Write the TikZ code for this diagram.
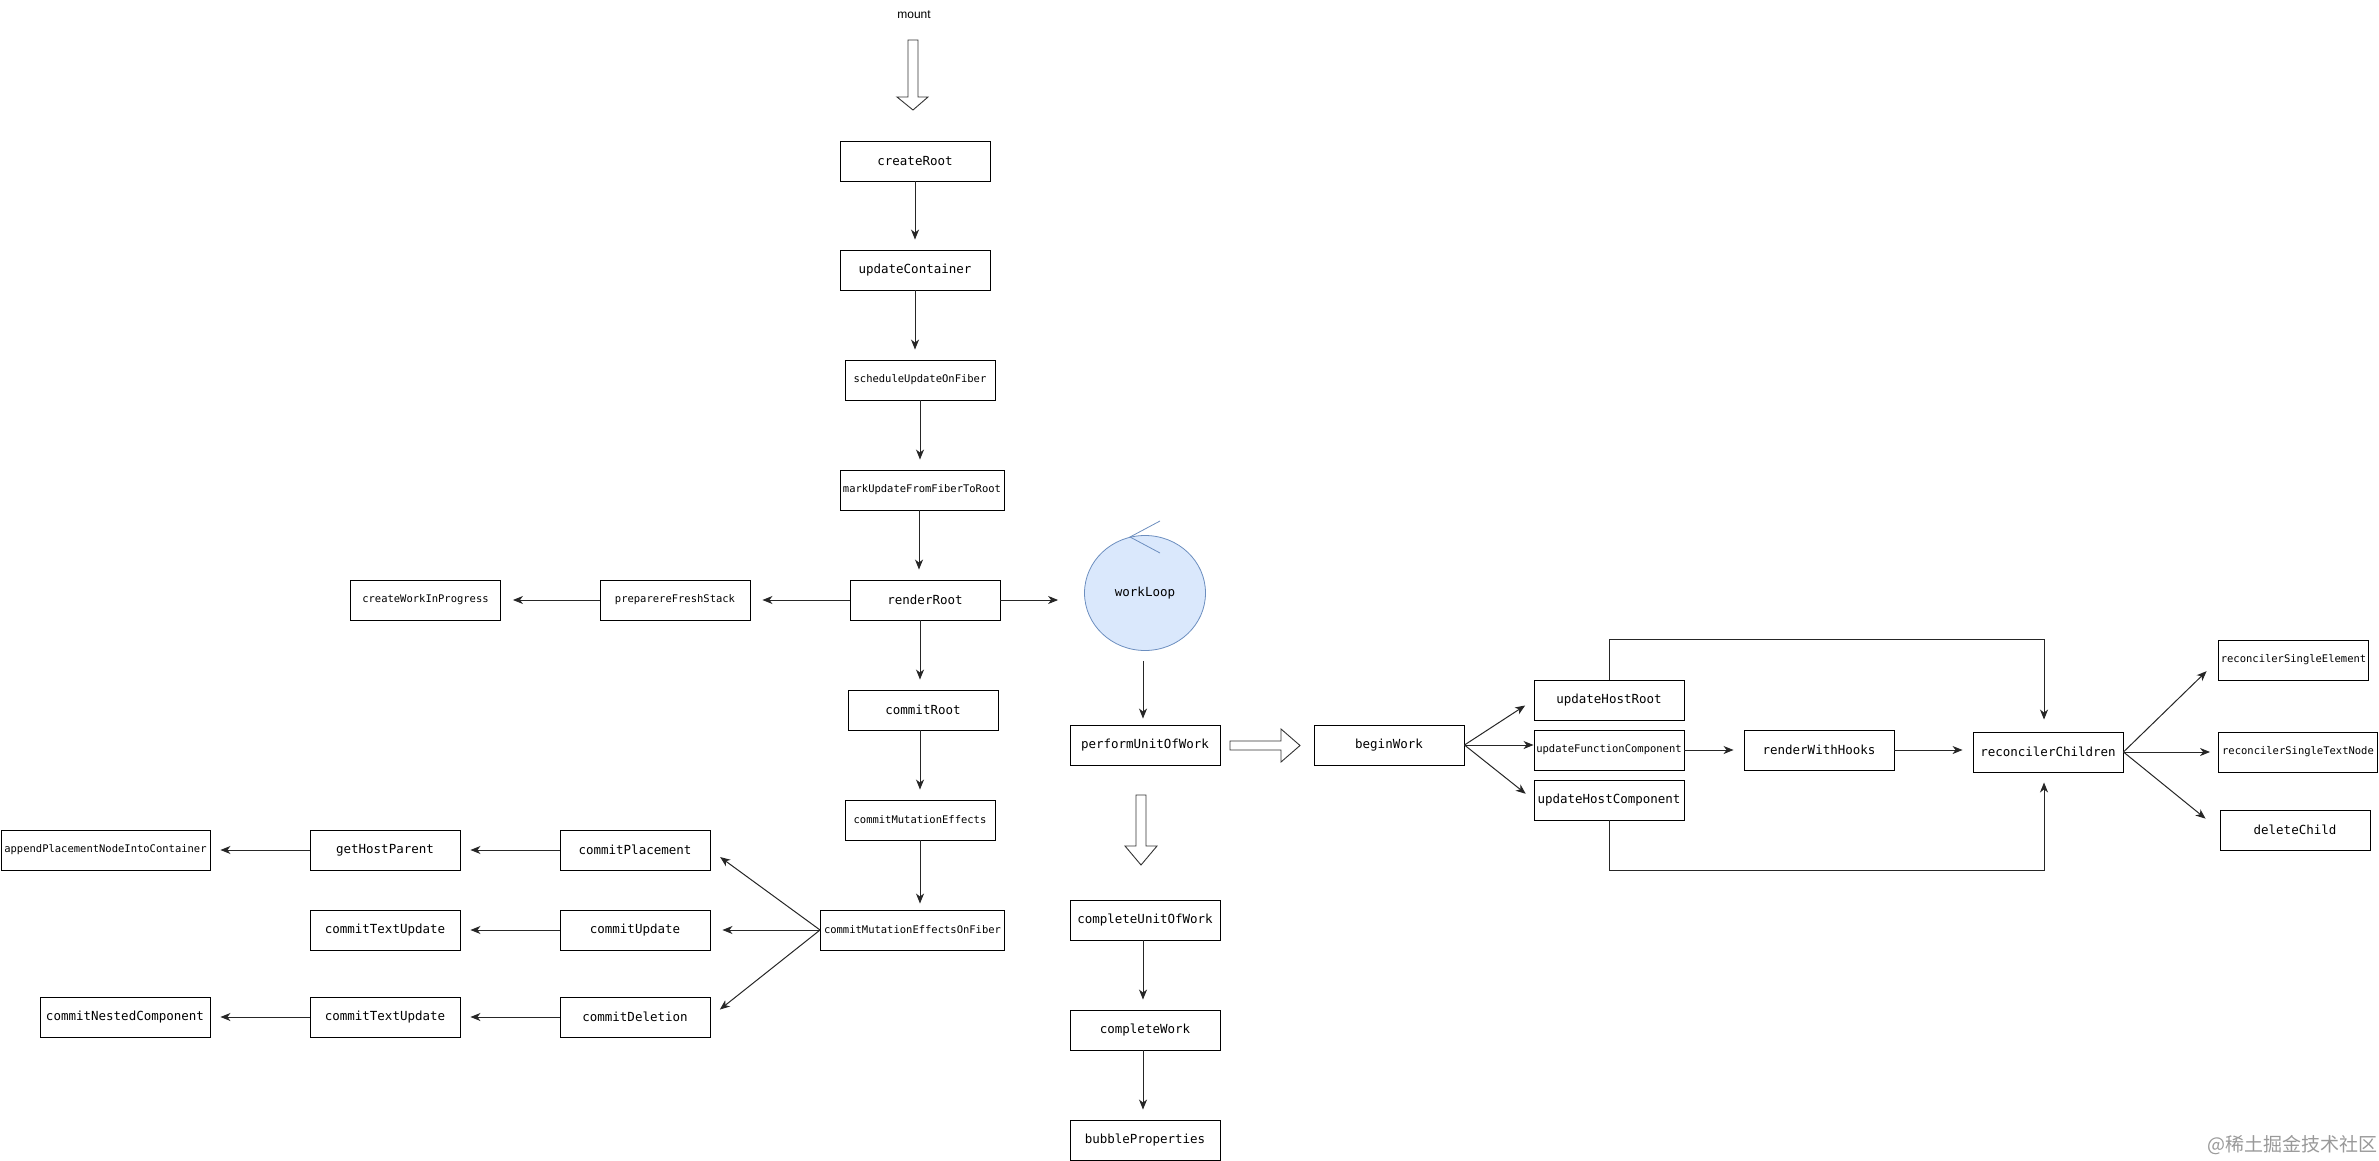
\documentclass[tikz,border=0pt]{standalone}
\definecolor{wlfill}{RGB}{218,232,252}
\definecolor{wlblue}{RGB}{108,142,191}
\usepackage{fontspec}
\setmainfont{Liberation Sans}
\setmonofont{DejaVu Sans Mono}
\newfontfamily\cjk{Noto Sans CJK SC}
\usepackage{tikz}
\usetikzlibrary{arrows.meta,shapes.geometric}

\begin{document}
\begin{tikzpicture}[x=1pt, y=-1pt,
  fnbox/.style={draw, line width=0.9pt, minimum width=150pt, minimum height=40pt, inner sep=0pt, font=\ttfamily\fontsize{12.5}{14}\selectfont},
  fnsmall/.style={fnbox, font=\ttfamily\fontsize{10.5}{12}\selectfont},
  callarr/.style={-{Stealth[length=10pt,width=8pt,inset=3pt]}, line width=1pt, black!85, shorten >=10pt},
  hollow/.style={draw=black!80, line width=0.9pt, fill=white}]
\useasboundingbox (0,0) rectangle (2379,1161);

% Entry
\node[font=\fontsize{12}{14}\selectfont] (mount) at (914,15) {mount};
\draw[hollow] (908,40) -- (918,40) -- (918,97) -- (928,97) -- (913,110) -- (897,97) -- (908,97) -- cycle;

% Render phase chain
\node[fnbox] (createRoot) at (915,161) {createRoot};
\node[fnbox] (updateContainer) at (915,270) {updateContainer};
\node[fnsmall] (scheduleUpdate) at (920,380) {scheduleUpdateOnFiber};
\node[fnsmall, minimum width=164pt] (markUpdate) at (922,490) {markUpdateFromFiberToRoot};
\node[fnbox] (renderRoot) at (925,600) {renderRoot};
\node[fnsmall] (prepareStack) at (675,600) {preparereFreshStack};
\node[fnsmall] (createWIP) at (425.5,600) {createWorkInProgress};

\draw[callarr] (createRoot.south) -- (createRoot.south |- updateContainer.north);
\draw[callarr] (updateContainer.south) -- (updateContainer.south |- scheduleUpdate.north);
\draw[callarr] (scheduleUpdate.south) -- (scheduleUpdate.south |- markUpdate.north);
\draw[callarr] ([xshift=-3pt]markUpdate.south) -- ([xshift=-3pt]markUpdate.south |- renderRoot.north);
\draw[callarr, shorten >=12pt] (renderRoot.west) -- (prepareStack.east);
\draw[callarr, shorten >=12pt] (prepareStack.west) -- (createWIP.east);

% Work loop
\node[ellipse, draw=wlblue, fill=wlfill, line width=0.8pt, minimum width=121pt, minimum height=115pt, inner sep=0pt, font=\ttfamily\fontsize{12.5}{14}\selectfont] (workLoop) at (1145,593) {workLoop};
\draw[wlblue, line width=0.8pt] (1160,521) -- (1130,537) -- (1160,553);
\draw[callarr, shorten >=26pt] (renderRoot.east) -- (renderRoot.east -| workLoop.west);

\node[fnbox] (performUnit) at (1145,745) {performUnitOfWork};
\draw[callarr, shorten <=10pt, shorten >=6pt] ([xshift=-2pt]workLoop.south) -- ([xshift=-2pt]performUnit.north);

% Complete branch
\draw[hollow] (1136,795) -- (1146,795) -- (1146,846) -- (1157,846) -- (1141,865) -- (1125,846) -- (1136,846) -- cycle;
\node[fnbox] (completeUnit) at (1145,920) {completeUnitOfWork};
\node[fnbox] (completeWork) at (1145,1030) {completeWork};
\node[fnbox] (bubbleProps) at (1145,1140) {bubbleProperties};
\draw[callarr] ([xshift=-2pt]completeUnit.south) -- ([xshift=-2pt]completeWork.north);
\draw[callarr] ([xshift=-2pt]completeWork.south) -- ([xshift=-2pt]bubbleProps.north);

% Begin branch
\draw[hollow] (1230,741) -- (1281,741) -- (1281,729) -- (1300,745.5) -- (1281,762) -- (1281,750) -- (1230,750) -- cycle;
\node[fnbox] (beginWork) at (1389,745) {beginWork};
\node[fnbox] (updateHostRoot) at (1609,700) {updateHostRoot};
\node[fnsmall] (updateFnComp) at (1609,750) {updateFunctionComponent};
\node[fnbox] (updateHostComp) at (1609,800) {updateHostComponent};
\node[fnbox] (renderHooks) at (1819,750) {renderWithHooks};
\node[fnbox] (reconcilerChildren) at (2048,752) {reconcilerChildren};
\node[fnsmall] (singleElement) at (2293.5,660) {reconcilerSingleElement};
\node[fnsmall, minimum width=159pt] (singleText) at (2298,752) {reconcilerSingleTextNode};
\node[fnbox] (deleteChild) at (2295,830) {deleteChild};

\draw[callarr] (beginWork.east) -- (updateHostRoot.west);
\draw[callarr, shorten >=0pt] (beginWork.east) -- (beginWork.east -| updateFnComp.west);
\draw[callarr] (beginWork.east) -- (updateHostComp.west);
\draw[callarr] (updateFnComp.east) -- (renderHooks.west);
\draw[callarr] (renderHooks.east) -- (renderHooks.east -| reconcilerChildren.west);
\draw[callarr, shorten >=12pt] (updateHostRoot.north) -- ++(0,-40) -| ([xshift=-4pt]reconcilerChildren.north);
\draw[callarr] (updateHostComp.south) -- ++(0,50) -| ([xshift=-4pt]reconcilerChildren.south);
\draw[callarr, shorten >=16pt] (reconcilerChildren.east) -- (singleElement.west);
\draw[callarr, shorten >=8pt] (reconcilerChildren.east) -- (singleText.west);
\draw[callarr, shorten >=18pt] (reconcilerChildren.east) -- (deleteChild.west);

% Commit phase
\node[fnbox] (commitRoot) at (923,710) {commitRoot};
\node[fnsmall] (mutationEffects) at (920,820) {commitMutationEffects};
\node[fnsmall, minimum width=184pt] (effectsOnFiber) at (912.5,930) {commitMutationEffectsOnFiber};
\draw[callarr] ([xshift=-5pt]renderRoot.south) -- ([xshift=-5pt]renderRoot.south |- commitRoot.north);
\draw[callarr] (commitRoot.south -| mutationEffects.north) -- (mutationEffects.north);
\draw[callarr, shorten >=6pt] (mutationEffects.south) -- (mutationEffects.south |- effectsOnFiber.north);

\node[fnbox] (commitPlacement) at (635,850) {commitPlacement};
\node[fnbox] (commitUpdate) at (635,930) {commitUpdate};
\node[fnbox] (commitDeletion) at (635,1017) {commitDeletion};
\node[fnbox] (getHostParent) at (385,850) {getHostParent};
\node[fnbox] (textUpdateA) at (385,930) {commitTextUpdate};
\node[fnbox] (textUpdateB) at (385,1017) {commitTextUpdate};
\node[fnsmall, minimum width=209pt] (appendNode) at (105.5,850) {appendPlacementNodeIntoContainer};
\node[fnbox, minimum width=170pt] (nestedComp) at (125,1017) {commitNestedComponent};

\draw[callarr, shorten >=12pt] (effectsOnFiber.west) -- (commitPlacement.east);
\draw[callarr, shorten >=12pt] (effectsOnFiber.west) -- (commitUpdate.east);
\draw[callarr, shorten >=12pt] (effectsOnFiber.west) -- (commitDeletion.east);
\draw[callarr] (commitPlacement.west) -- (getHostParent.east);
\draw[callarr] (getHostParent.west) -- (appendNode.east);
\draw[callarr] (commitUpdate.west) -- (textUpdateA.east);
\draw[callarr] (commitDeletion.west) -- (textUpdateB.east);
\draw[callarr] (textUpdateB.west) -- (nestedComp.east);

% Watermark
\node[text=black!40, font=\cjk\fontsize{19}{20}\selectfont] (watermark) at (2292,1145) {@稀土掘金技术社区};
\end{tikzpicture}
\end{document}
